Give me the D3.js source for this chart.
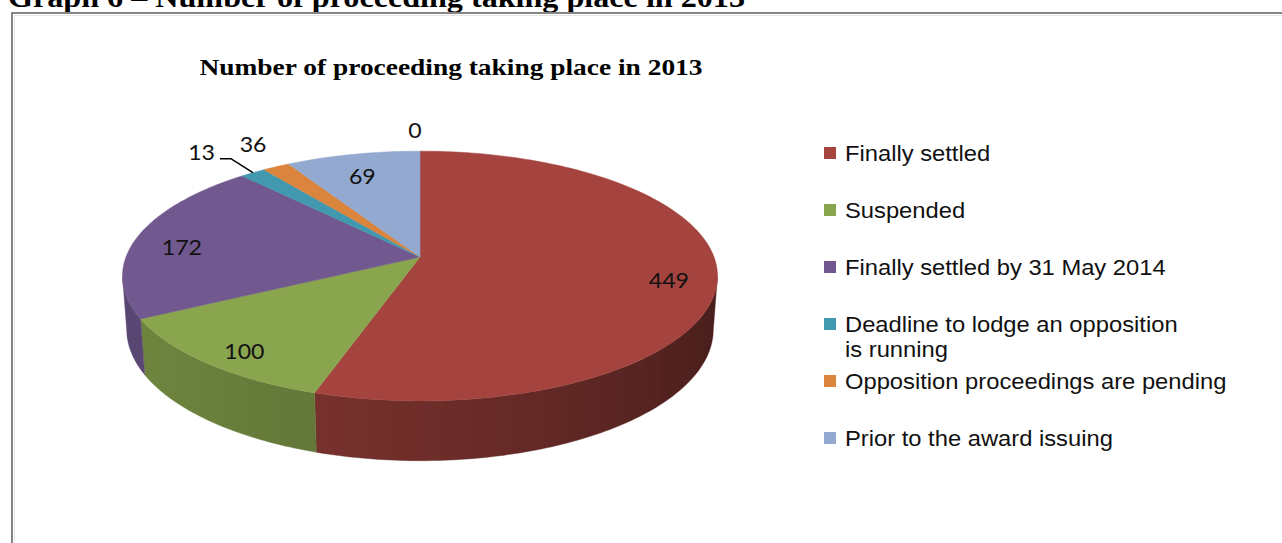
<!DOCTYPE html>
<html>
<head>
<meta charset="utf-8">
<script src="https://cdn.jsdelivr.net/npm/d3@7"></script>
<style>
  html, body { margin: 0; padding: 0; background: #ffffff; }
  svg { display: block; }
</style>
</head>
<body>
<div id="chart"></div>
<script>
// ---------------- DATA ----------------
const pageHeading = "Graph 6 \u2013 Number of proceeding taking place in 2013";
const chartTitle = "Number of proceeding taking place in 2013";
const categories = [
  "Finally settled",
  "Suspended",
  "Finally settled by 31 May 2014",
  "Deadline to lodge an opposition\nis running",
  "Opposition proceedings are pending",
  "Prior to the award issuing"
];
// slice sizes as drawn in the picture (the orange slice is drawn much smaller than its "36" label)
const sliceValues = [449, 100, 172, 13, 14, 69, 0];
// data labels as printed on the chart
const sliceLabels = ["449", "100", "172", "13", "36", "69", "0"];
const sliceColors = ["#A5443F", "#89A54E", "#71588F", "#4198AF", "#DB843D", "#93A9CF", "#B9CDE5"];

// ---------------- LAYOUT ----------------
const W = 1282, H = 543;
const svg = d3.select("#chart").append("svg").attr("width", W).attr("height", H);
const defs = svg.append("defs");

// page heading (cut off at the top, as in the reference)
svg.append("text")
  .attr("x", 8).attr("y", 7)
  .attr("font-family", "'Liberation Serif', 'Times New Roman', serif")
  .attr("font-weight", "bold").attr("font-size", 30)
  .attr("textLength", 737).attr("lengthAdjust", "spacingAndGlyphs")
  .attr("fill", "#000")
  .text(pageHeading);

// frame
svg.append("rect")
  .attr("x", 12).attr("y", 13).attr("width", W + 20).attr("height", H + 20)
  .attr("fill", "#fff").attr("stroke", "#858585").attr("stroke-width", 2);
svg.append("rect")
  .attr("x", 14.5).attr("y", 15.5).attr("width", W + 20).attr("height", H + 20)
  .attr("fill", "none").attr("stroke", "#e4e4e4").attr("stroke-width", 1);

// chart title
svg.append("text")
  .attr("x", 451).attr("y", 75)
  .attr("text-anchor", "middle")
  .attr("font-family", "'Liberation Serif', 'Times New Roman', serif")
  .attr("font-weight", "bold").attr("font-size", 24)
  .attr("textLength", 503).attr("lengthAdjust", "spacingAndGlyphs")
  .attr("fill", "#000")
  .text(chartTitle);

// ---------------- 3D PIE ----------------
const cx = 420, cy = 257, k = 294;       // projected centre and radius scale
const sinE = 0.415, cosE = Math.sqrt(1 - sinE * sinE); // elevation
const D = 5.97;                          // perspective distance (radius units)
const depth = 0.2;                       // thickness (radius units)

function P(theta, rho, yUp) {
  const X = rho * Math.sin(theta);
  const Z = -rho * Math.cos(theta);      // positive toward viewer
  const d = Z * cosE + yUp * sinE;
  const v = yUp * cosE - Z * sinE;
  const s = D / (D - d);
  return [cx + k * X * s, cy - k * v * s];
}

const pie = d3.pie().sort(null).value(d => d).startAngle(0).endAngle(2 * Math.PI);
const arcs = pie(sliceValues);
const pieG = svg.append("g");

const lightDir = 250 * Math.PI / 180;
function shade(i, t) {
  const f = 0.6 + 0.2 * Math.cos(t - lightDir);
  const c = d3.rgb(sliceColors[i]);
  return d3.rgb(c.r * f, c.g * f, c.b * f).formatHex();
}

// walls (front-facing part only), each one path with a shading gradient
const visLo = Math.PI * 0.55, visHi = Math.PI * 1.45;
arcs.forEach((a, i) => {
  const lo = Math.max(a.startAngle, visLo);
  const hi = Math.min(a.endAngle, visHi);
  if (hi <= lo) return;
  const n = Math.max(2, Math.ceil((hi - lo) / (Math.PI / 180)));
  const ts = d3.range(n + 1).map(j => lo + (hi - lo) * j / n);
  const topPts = ts.map(t => P(t, 1, 0));
  const botPts = ts.map(t => P(t, 1, -depth)).reverse();
  const x1 = topPts[0][0], x2 = topPts[topPts.length - 1][0];
  const gid = "wall" + i;
  const grad = defs.append("linearGradient").attr("id", gid)
    .attr("gradientUnits", "userSpaceOnUse")
    .attr("x1", x1).attr("y1", 0).attr("x2", x2).attr("y2", 0);
  ts.forEach((t, j) => {
    const off = Math.abs(x2 - x1) < 0.01 ? 0 : (topPts[j][0] - x1) / (x2 - x1);
    grad.append("stop").attr("offset", Math.max(0, Math.min(1, off))).attr("stop-color", shade(i, t));
  });
  pieG.append("path")
    .attr("d", "M" + topPts.concat(botPts).map(p => p.join(",")).join("L") + "Z")
    .attr("fill", `url(#${gid})`)
    .attr("stroke", shade(i, (lo + hi) / 2)).attr("stroke-width", 0.4);
});

// top faces
pieG.append("g").selectAll("path").data(arcs.filter(a => a.value > 0)).join("path")
  .attr("d", a => {
    const n = Math.max(2, Math.ceil((a.endAngle - a.startAngle) / (Math.PI / 180)));
    const pts = [P(0, 0, 0)];
    for (let j = 0; j <= n; j++) {
      pts.push(P(a.startAngle + (a.endAngle - a.startAngle) * j / n, 1, 0));
    }
    return "M" + pts.map(p => p.join(",")).join("L") + "Z";
  })
  .attr("fill", a => sliceColors[a.index])
  .attr("stroke", a => sliceColors[a.index])
  .attr("stroke-width", 0.5);

// data labels
const labelFont = "Lato, 'Open Sans', sans-serif";
const total = d3.sum(sliceValues);
const labG = svg.append("g");
function addLabel(x, y, txt, anchor) {
  labG.append("text")
    .attr("transform", `translate(${x},${y}) scale(1.1,1)`)
    .attr("text-anchor", anchor || "middle")
    .attr("dominant-baseline", "central")
    .attr("font-family", labelFont).attr("font-size", 21)
    .attr("fill", "#111")
    .text(txt);
}
arcs.forEach((a, i) => {
  const mid = (a.startAngle + a.endAngle) / 2;
  const share = a.value / total;
  if (share > 0.05) {
    const p = P(mid, 0.84, 0);
    addLabel(p[0], p[1] + 7, sliceLabels[i]);
  } else if (a.value > 0 && i === 3) {
    // leader-line label
    const e = P(mid, 1, 0);
    const elbow = [e[0] - 22, e[1] - 14];
    const end = [elbow[0] - 11, elbow[1]];
    labG.append("path")
      .attr("d", `M${e[0]},${e[1]}L${elbow[0]},${elbow[1]}L${end[0]},${end[1]}`)
      .attr("fill", "none").attr("stroke", "#000").attr("stroke-width", 1.6);
    addLabel(end[0] - 5, elbow[1] - 7, sliceLabels[i], "end");
  } else if (a.value > 0) {
    const e = P(mid, 1, 0);
    addLabel(e[0] - 23, e[1] - 23, sliceLabels[i]);
  } else {
    const e = P(a.startAngle, 1, 0);
    addLabel(e[0] - 5, e[1] - 21, sliceLabels[i]);
  }
});

// ---------------- LEGEND ----------------
const legG = svg.append("g").attr("font-family", "'Liberation Sans', Arial, sans-serif");
const legX = 824, legY0 = 153, legStep = 57;
categories.forEach((name, i) => {
  const y = legY0 + i * legStep;
  legG.append("rect")
    .attr("x", legX).attr("y", y - 6).attr("width", 12).attr("height", 12)
    .attr("fill", sliceColors[i]);
  const t = legG.append("text")
    .attr("transform", `translate(${legX + 21},${y}) scale(1.08,1)`)
    .attr("dominant-baseline", "central")
    .attr("font-size", 22).attr("fill", "#111");
  name.split("\n").forEach((ln, j) => {
    t.append("tspan").attr("x", 0).attr("dy", j === 0 ? 0 : 25).text(ln);
  });
});
</script>
</body>
</html>
